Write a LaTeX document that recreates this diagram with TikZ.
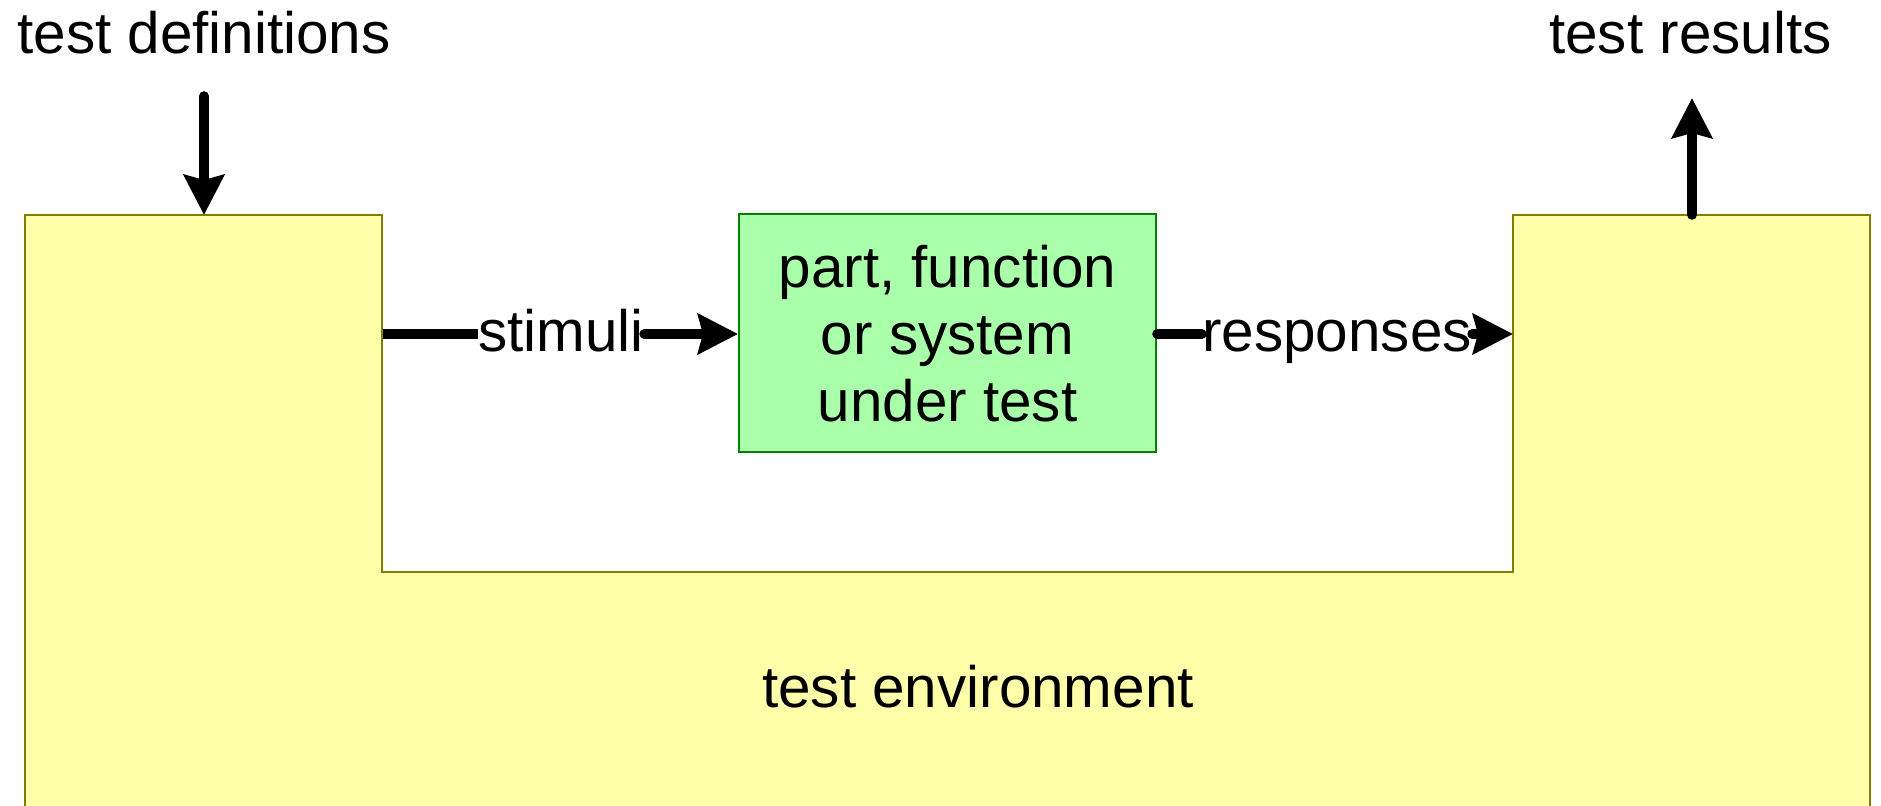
\documentclass[tikz,border=0pt]{standalone}
\usepackage{fontspec}
\setmainfont{Liberation Sans}
\usetikzlibrary{arrows.meta}
\definecolor{envfill}{HTML}{FFFFAA}
\definecolor{envline}{HTML}{808000}
\definecolor{sutfill}{HTML}{AAFFAA}
\definecolor{sutline}{HTML}{008000}
\begin{document}
\begin{tikzpicture}[x=0.5pt,y=-0.5pt,
  lbl/.style={inner sep=0pt, font=\fontsize{29.2}{33.6}\selectfont},
  conn/.style={line width=4.8pt, line cap=round},
  arr/.style={conn, -{Stealth[length=20pt,width=20pt,inset=2.5pt]}},
  sut/.style={draw=sutline, fill=sutfill, line width=1pt, minimum width=208.5pt,
    minimum height=119pt, align=center, inner sep=0pt,
    font=\fontsize{29.2}{33.6}\selectfont},
]
\useasboundingbox (0,0) rectangle (1881,806);
% test environment
\fill[envfill] (25,806) -- (25,215) -- (382,215) -- (382,572) -- (1513,572)
  -- (1513,215) -- (1870,215) -- (1870,806) -- cycle;
\draw[envline, line width=1pt] (25,806) -- (25,215) -- (382,215) -- (382,572)
  -- (1513,572) -- (1513,215) -- (1870,215) -- (1870,806);
\coordinate (envin) at (204,215);
\coordinate (envout) at (1692,215);
\coordinate (envstim) at (383,334);
\coordinate (envresp) at (1513,334);
\node[lbl, anchor=base] (envlabel) at (978,708) {test environment};
% system under test
\node[sut] (sut) at (947.5,333.5) {part, function\\or system\\under test};
% labels
\node[lbl, anchor=base west] (defs) at (17,54) {test definitions};
\node[lbl, anchor=base east] (results) at (1832,54) {test results};
\node[lbl, anchor=base] (stim) at (561,352) {stimuli};
\node[lbl, anchor=base] (resp) at (1337,352) {responses};
\coordinate (defsend) at (204,96);
\coordinate (resend) at (1692,98);
% connectors
\draw[arr] (defsend) -- (envin);
\draw[arr] (envout) -- (resend);
\draw[conn, line cap=butt] (envstim) -- (stim.west |- envstim);
\draw[arr] (stim.east |- envstim) -- (sut.west |- envstim);
\draw[conn] (sut.east |- envresp) -- (resp.west |- envresp);
\draw[arr] (resp.east |- envresp) -- (envresp);
\end{tikzpicture}
\end{document}
